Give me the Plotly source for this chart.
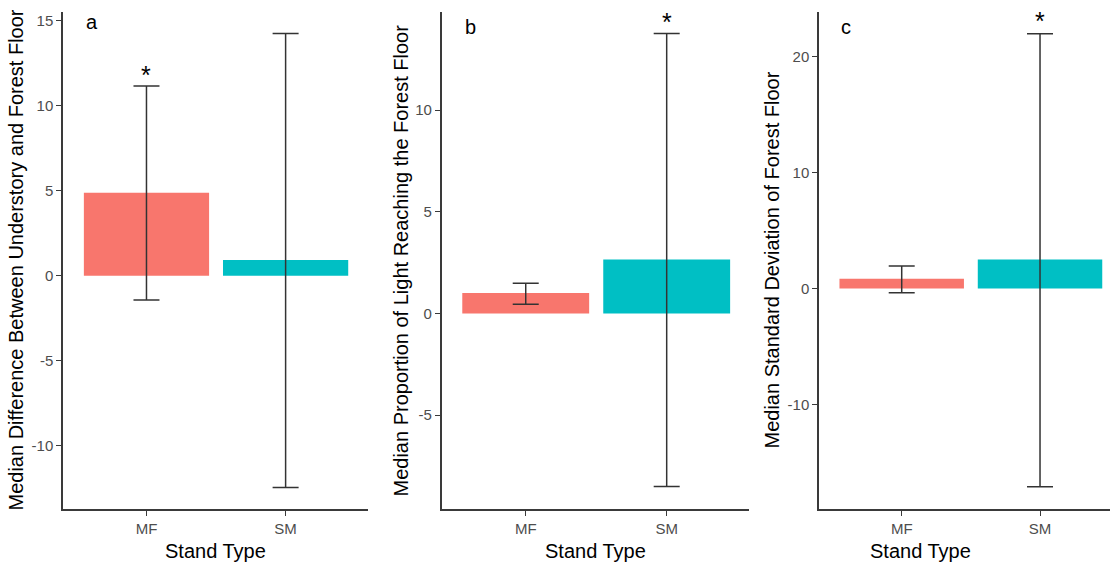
import plotly.graph_objects as go

categories = ["MF", "SM"]
bar_colors = ["#F8766D", "#00BFC4"]

# Panel a: Median difference between understory and forest floor
a_median = [4.88, 0.92]
a_upper = [11.16, 14.24]
a_lower = [-1.44, -12.46]

# Panel b: Median proportion of light reaching the forest floor
b_median = [1.01, 2.66]
b_upper = [1.49, 13.76]
b_lower = [0.46, -8.51]

# Panel c: Median standard deviation of forest floor
c_median = [0.84, 2.52]
c_upper = [1.96, 22.01]
c_lower = [-0.37, -17.10]

panel_letters = ["a", "b", "c"]
y_titles = [
    "Median Difference Between Understory and Forest Floor",
    "Median Proportion of Light Reaching the Forest Floor",
    "Median Standard Deviation of Forest Floor",
]
x_title = "Stand Type"
a_ticks = [-10, -5, 0, 5, 10, 15]
b_ticks = [-5, 0, 5, 10]
c_ticks = [-10, 0, 10, 20]

# significance markers: (category, y)
a_star = ("MF", 12.1)
b_star = ("SM", 14.55)
c_star = ("SM", 23.57)

W, H = 1110, 564
def px_x(p):
    return p / W
def px_y(p):
    return 1 - p / H

FONT = "Liberation Sans, Arial, sans-serif"
panels = [
    dict(med=a_median, up=a_upper, lo=a_lower, ticks=a_ticks,
         xdom=[px_x(63), px_x(367.7)], xr=[-0.6, 1.59], yr=[-13.73, 15.51],
         star=a_star, letter_pos=(-0.39, 14.9), title_x=15),
    dict(med=b_median, up=b_upper, lo=b_lower, ticks=b_ticks,
         xdom=[px_x(441.7), px_x(749.3)], xr=[-0.596, 1.586], yr=[-9.61, 14.82],
         star=b_star, letter_pos=(-0.39, 14.1), title_x=400),
    dict(med=c_median, up=c_upper, lo=c_lower, ticks=c_ticks,
         xdom=[px_x(819), 1.0], xr=[-0.598, 1.506], yr=[-19.03, 23.88],
         star=c_star, letter_pos=(-0.405, 22.55), title_x=771),
]

fig = go.Figure()
annotations = []
ydom = [px_y(509), px_y(12)]

for i, p in enumerate(panels):
    sfx = "" if i == 0 else str(i + 1)
    plus = [u - m for u, m in zip(p["up"], p["med"])]
    minus = [m - l for m, l in zip(p["med"], p["lo"])]
    fig.add_trace(go.Bar(
        x=categories, y=p["med"], width=0.9,
        marker=dict(color=bar_colors, line=dict(width=0)),
        error_y=dict(type="data", symmetric=False, array=plus, arrayminus=minus,
                     color="#333333", thickness=1.5, width=13),
        xaxis="x" + sfx, yaxis="y" + sfx, showlegend=False, hoverinfo="skip",
    ))
    axis_common = dict(showline=True, linecolor="#3a3a3a", linewidth=1.5,
                       ticks="outside", ticklen=5, tickcolor="#3a3a3a", tickwidth=1.2,
                       showgrid=False, zeroline=False,
                       tickfont=dict(family=FONT, size=15, color="#4D4D4D"))
    fig.layout["xaxis" + sfx] = dict(axis_common, domain=p["xdom"], range=p["xr"],
                                     anchor="y" + sfx, type="category")
    fig.layout["yaxis" + sfx] = dict(axis_common, domain=ydom, range=p["yr"],
                                     anchor="x" + sfx, tickvals=p["ticks"],
                                     ticktext=[str(t) for t in p["ticks"]])
    xref = "x" + sfx
    yref = "y" + sfx
    # panel letter
    annotations.append(dict(text=panel_letters[i], x=p["letter_pos"][0], y=p["letter_pos"][1],
                            xref=xref, yref=yref, showarrow=False,
                            font=dict(family=FONT, size=20, color="black")))
    # star
    star_idx = categories.index(p["star"][0])
    annotations.append(dict(text="*", x=star_idx, y=p["star"][1], xref=xref, yref=yref,
                            showarrow=False, yshift=-5,
                            font=dict(family=FONT, size=25, color="black")))
    # y title
    annotations.append(dict(text=y_titles[i], x=px_x(p["title_x"]), y=px_y(260.5),
                            xref="paper", yref="paper", textangle=-90, showarrow=False,
                            xanchor="center", yanchor="middle",
                            font=dict(family=FONT, size=20, color="black")))
    # x title
    annotations.append(dict(text=x_title, x=(p["xdom"][0] + p["xdom"][1]) / 2 if i < 2 else px_x(920),
                            y=px_y(551), xref="paper", yref="paper", showarrow=False,
                            xanchor="center", yanchor="middle",
                            font=dict(family=FONT, size=20, color="black")))

fig.update_layout(width=W, height=H, margin=dict(l=0, r=0, t=0, b=0),
                  paper_bgcolor="white", plot_bgcolor="white",
                  annotations=annotations, bargap=0.1)

fig.write_html("out.html", config={"displayModeBar": False},
               post_script="document.body.style.margin='0';document.body.style.padding='0';")
